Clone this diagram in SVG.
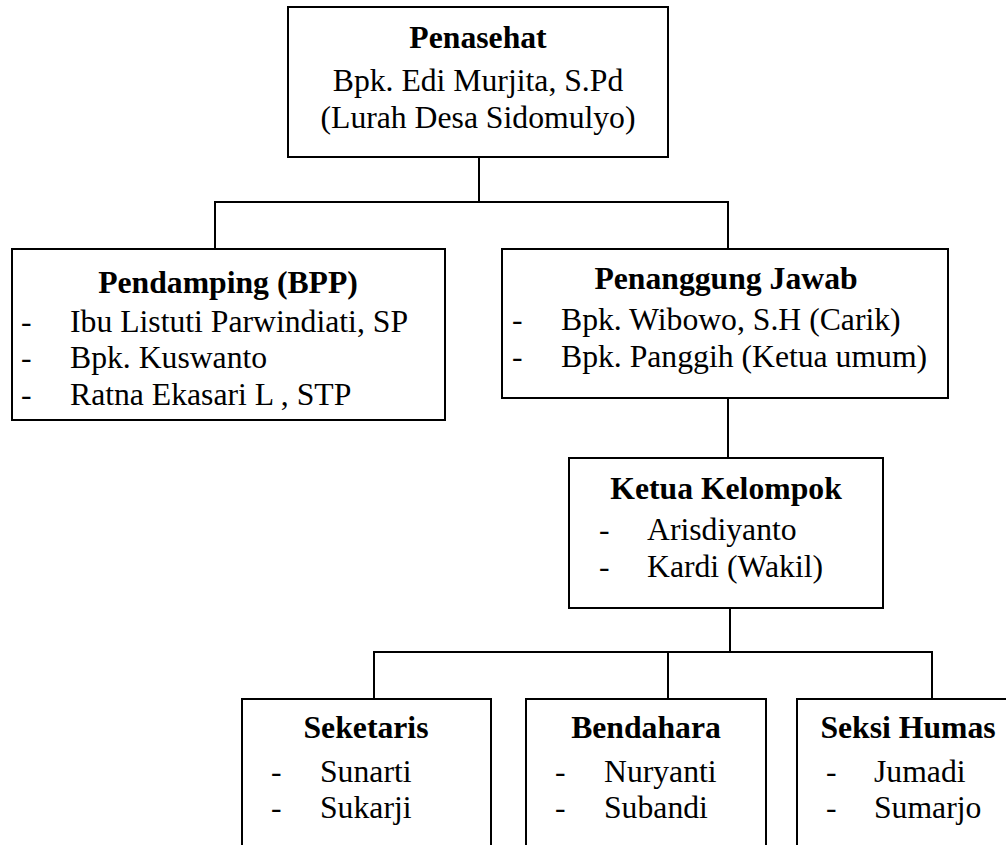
<svg xmlns="http://www.w3.org/2000/svg" width="1006" height="845" viewBox="0 0 1006 845">
<style>
rect.box{fill:#fff;stroke:#000;stroke-width:2}
.conn line{stroke:#000;stroke-width:2}
text{font-family:"Liberation Serif","Times New Roman",serif;font-size:31.7px;fill:#000}
.t{font-weight:bold;text-anchor:middle}
.c{text-anchor:middle}
</style>
<rect width="1006" height="845" fill="#fff"/>
<g class="conn" id="connectors">
<line x1="479" y1="157" x2="479" y2="202"/>
<line x1="214" y1="202" x2="729" y2="202"/>
<line x1="215" y1="202" x2="215" y2="249"/>
<line x1="728" y1="202" x2="728" y2="249"/>
<line x1="728" y1="398" x2="728" y2="458"/>
<line x1="730" y1="608" x2="730" y2="652"/>
<line x1="373" y1="652" x2="933" y2="652"/>
<line x1="374" y1="652" x2="374" y2="699"/>
<line x1="668" y1="652" x2="668" y2="699"/>
<line x1="932" y1="652" x2="932" y2="699"/>
</g>
<g id="penasehat">
<rect class="box" x="288" y="7" width="380" height="150"/>
<text class="t" x="478" y="48">Penasehat</text>
<text class="c" x="478" y="91">Bpk. Edi Murjita, S.Pd</text>
<text class="c" x="478" y="128">(Lurah Desa Sidomulyo)</text>
</g>
<g id="pendamping">
<rect class="box" x="12" y="249" width="433" height="171"/>
<text class="t" x="228" y="293">Pendamping (BPP)</text>
<text x="21" y="332">-</text><text x="70" y="332">Ibu Listuti Parwindiati, SP</text>
<text x="21" y="368">-</text><text x="70" y="368">Bpk. Kuswanto</text>
<text x="21" y="405">-</text><text x="70" y="405">Ratna Ekasari L , STP</text>
</g>
<g id="penanggung-jawab">
<rect class="box" x="502" y="249" width="446" height="149"/>
<text class="t" x="726" y="289">Penanggung Jawab</text>
<text x="512" y="330">-</text><text x="561" y="330">Bpk. Wibowo, S.H (Carik)</text>
<text x="512" y="367">-</text><text x="561" y="367">Bpk. Panggih (Ketua umum)</text>
</g>
<g id="ketua-kelompok">
<rect class="box" x="569" y="458" width="314" height="150"/>
<text class="t" x="726" y="499">Ketua Kelompok</text>
<text x="599" y="540">-</text><text x="647" y="540">Arisdiyanto</text>
<text x="599" y="577">-</text><text x="647" y="577">Kardi (Wakil)</text>
</g>
<g id="seketaris">
<rect class="box" x="242" y="699" width="249" height="170"/>
<text class="t" x="366" y="738">Seketaris</text>
<text x="271" y="782">-</text><text x="320" y="782">Sunarti</text>
<text x="271" y="818">-</text><text x="320" y="818">Sukarji</text>
</g>
<g id="bendahara">
<rect class="box" x="526" y="699" width="240" height="170"/>
<text class="t" x="646" y="738">Bendahara</text>
<text x="555" y="782">-</text><text x="604" y="782">Nuryanti</text>
<text x="555" y="818">-</text><text x="604" y="818">Subandi</text>
</g>
<g id="seksi-humas">
<rect class="box" x="797" y="699" width="230" height="170"/>
<text class="t" x="908" y="738">Seksi Humas</text>
<text x="826" y="782">-</text><text x="874" y="782">Jumadi</text>
<text x="826" y="818">-</text><text x="874" y="818">Sumarjo</text>
</g>
</svg>
